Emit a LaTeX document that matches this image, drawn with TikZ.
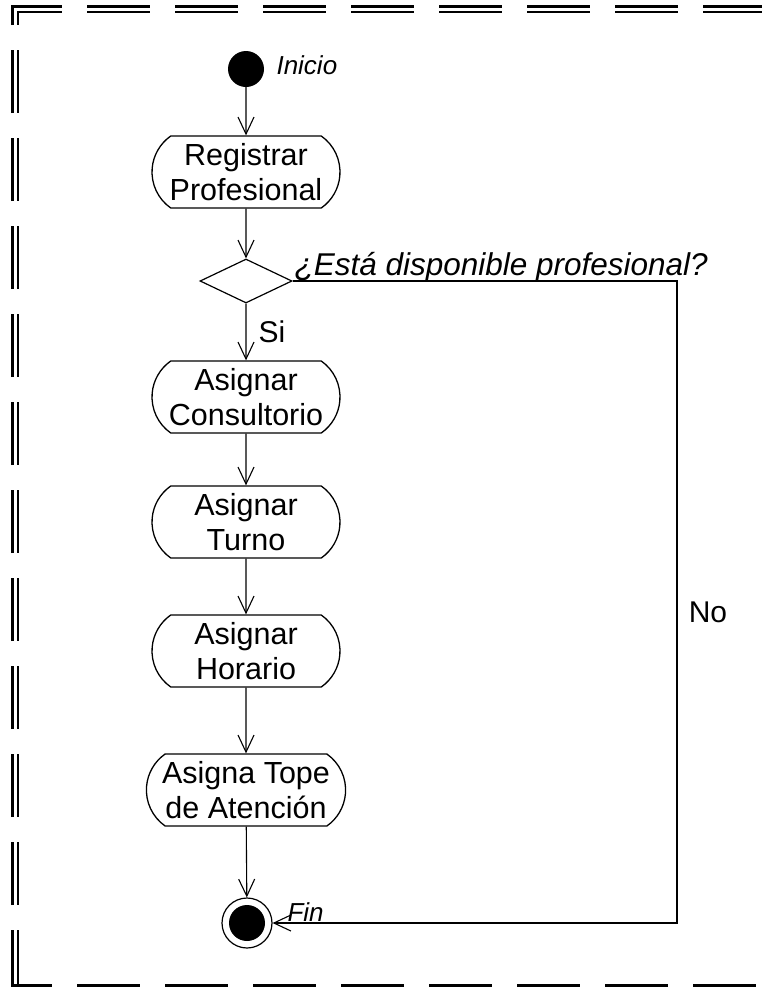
\documentclass[tikz,border=0pt]{standalone}
\usepackage{fontspec}
\setmainfont{Liberation Sans}
\usetikzlibrary{shapes}
\usetikzlibrary{shapes.geometric}
\usetikzlibrary{shapes.misc}
\usetikzlibrary{arrows.meta}

\begin{document}
\begin{tikzpicture}[x=1pt, y=-1pt,
  actividad/.style={rounded rectangle, rounded rectangle arc length=110, draw, line width=1.3pt, minimum width=198pt, minimum height=72pt, inner xsep=5pt, align=center, font=\fontsize{30.5}{35}\selectfont},
  decision/.style={diamond, draw, line width=1.2pt, aspect=2, minimum width=92pt, minimum height=44pt, inner sep=0pt},
  inicio/.style={circle, fill, minimum size=36pt, inner sep=0pt},
  final/.style={circle, draw, line width=1.2pt, minimum size=50pt, inner sep=0pt, path picture={\fill (path picture bounding box.center) circle (18pt);}},
  flecha/.style={line width=1.1pt, -{Straight Barb[length=17pt, width=16pt]}},
  etiq/.style={font=\fontsize{26}{30}\selectfont\itshape},
  rotulo/.style={font=\fontsize{30}{35}\selectfont},
  marco/.style={dash pattern=on 63pt off 25pt}
]
\useasboundingbox (0,0) rectangle (762,989);
\draw[marco, line width=2.2pt, double, double distance=3pt, dash phase=8pt, line join=miter] (15,985) -- (15,9) -- (762,9);
\draw[marco, line width=3pt, dash phase=22pt] (11,985) -- (762,985);

\node[inicio] (ini) at (246,69) {};
\node[etiq, anchor=base west] (lini) at (273,74) {Inicio};
\node[actividad] (reg) at (246,172) {Registrar\\Profesional};
\node[decision] (dec) at (246,281) {};
\node[font=\fontsize{31.5}{36}\selectfont\itshape, anchor=base west] (preg) at (291,275) {¿Está disponible profesional?};
\node[actividad] (cons) at (246,397) {Asignar\\Consultorio};
\node[rotulo, anchor=west] (si) at (255,332) {Si};
\node[actividad] (turno) at (246,522) {Asignar\\Turno};
\node[actividad] (hor) at (246,651) {Asignar\\Horario};
\node[actividad] (tope) at (246,790) {Asigna Tope\\de Atención};
\node[final] (fin) at (247,923) {};
\node[etiq, anchor=base west] (lfin) at (284,921) {Fin};
\node[rotulo] (no) at (708,612) {No};
\coordinate (esq) at (677,923);

\draw[flecha] (ini) -- (reg);
\draw[flecha] (reg) -- (dec);
\draw[flecha] (dec) -- (cons);
\draw[flecha] (cons) -- (turno);
\draw[flecha] (turno) -- (hor);
\draw[flecha] (hor) -- (tope);
\draw[flecha] (tope) -- (fin);
\draw[flecha] (dec.east) -| (esq) -- (fin.east);
\end{tikzpicture}
\end{document}
